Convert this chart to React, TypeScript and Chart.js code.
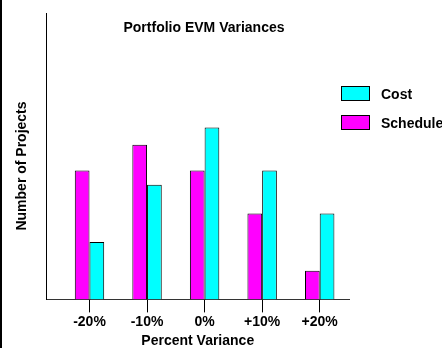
import React, { useEffect, useRef } from "react";
import { Chart, registerables } from "chart.js";

Chart.register(...registerables);

const categories = ["-20%", "-10%", "0%", "+10%", "+20%"];
const scheduleValues = [4.5, 5.4, 4.5, 3, 1];
const costValues = [2, 4, 6, 4.5, 3];
const scheduleName = "Schedule";
const costName = "Cost";
const chartTitle = "Portfolio EVM Variances";
const xTitle = "Percent Variance";
const yTitle = "Number of Projects";
const yMax = 10;

const FONT = '"Liberation Sans", Arial, Helvetica, sans-serif';
const W = 442;
const H = 348;

const decorPlugin = {
  id: "decor",
  afterDraw(chart: any) {
    const ctx = chart.ctx;
    ctx.save();
    // left frame line
    ctx.fillStyle = "#000";
    ctx.fillRect(0, 0, 2, chart.height);
    // title
    ctx.font = `bold 14px ${FONT}`;
    ctx.fillStyle = "#000";
    ctx.textAlign = "center";
    ctx.textBaseline = "alphabetic";
    ctx.fillText(chartTitle, 204, 32);
    // y-axis title
    ctx.save();
    ctx.translate(22.5, 166);
    ctx.rotate(-Math.PI / 2);
    ctx.textAlign = "center";
    ctx.textBaseline = "middle";
    ctx.fillText(yTitle, 0, 0);
    ctx.restore();
    // legend (reverse dataset order)
    const ds = chart.data.datasets.slice().reverse();
    ds.forEach((d: any, i: number) => {
      const bx = 341;
      const by = 86 + i * 29;
      ctx.fillStyle = d.backgroundColor;
      ctx.fillRect(bx, by, 29, 15);
      ctx.strokeStyle = "#000";
      ctx.lineWidth = 1;
      ctx.strokeRect(bx + 0.5, by + 0.5, 28, 14);
      ctx.fillStyle = "#000";
      ctx.textAlign = "left";
      ctx.textBaseline = "alphabetic";
      ctx.fillText(d.label, 381, by + 12.5);
    });
    ctx.restore();
  },
};

export default function App() {
  const ref = useRef<HTMLCanvasElement | null>(null);

  useEffect(() => {
    if (!ref.current) return;
    const chart = new Chart(ref.current, {
      type: "bar",
      data: {
        datasets: [
          {
            label: scheduleName,
            data: categories.map((_, i) => ({ x: i, y: scheduleValues[i] })),
            backgroundColor: "#FF00FF",
            borderColor: "#000",
            borderWidth: 1,
            barPercentage: 1,
            categoryPercentage: 0.511,
          },
          {
            label: costName,
            data: categories.map((_, i) => ({ x: i, y: costValues[i] })),
            backgroundColor: "#00FFFF",
            borderColor: "#000",
            borderWidth: 1,
            barPercentage: 1,
            categoryPercentage: 0.511,
          },
        ] as any,
      },
      options: {
        responsive: false,
        animation: false,
        devicePixelRatio: 1,
        layout: { padding: { left: 46.5, right: 93, top: 13, bottom: -2 } },
        plugins: {
          legend: { display: false },
          title: { display: false },
          tooltip: { enabled: false },
        },
        scales: {
          x: {
            type: "linear",
            min: -0.747,
            max: 4.509,
            offset: false,
            afterBuildTicks: (scale: any) => {
              scale.ticks = categories.map((_, i) => ({ value: i }));
            },
            ticks: {
              autoSkip: false,
              maxRotation: 0,
              padding: 1,
              color: "#000",
              font: { family: FONT, size: 14, weight: "bold", lineHeight: 1.2 },
              callback: (v: any) => categories[v] ?? "",
            },
            grid: {
              display: true,
              drawOnChartArea: false,
              drawTicks: true,
              tickLength: 13,
              color: "#000",
              offset: false,
            },
            border: { display: true, color: "#333", width: 1 },
            title: {
              display: true,
              text: xTitle,
              color: "#000",
              font: { family: FONT, size: 14, weight: "bold", lineHeight: 1.2 },
              padding: { top: 2, bottom: 0 },
            },
          },
          y: {
            type: "linear",
            min: 0,
            max: yMax,
            ticks: { display: false },
            grid: { display: false, drawTicks: false },
            border: { display: true, color: "#000", width: 1 },
            title: { display: false },
          },
        },
      } as any,
      plugins: [decorPlugin],
    });
    return () => chart.destroy();
  }, []);

  return (
    <div style={{ position: "fixed", left: 0, top: 0, width: W, height: H, background: "#fff" }}>
      <canvas ref={ref} width={W} height={H} style={{ display: "block" }} />
    </div>
  );
}
